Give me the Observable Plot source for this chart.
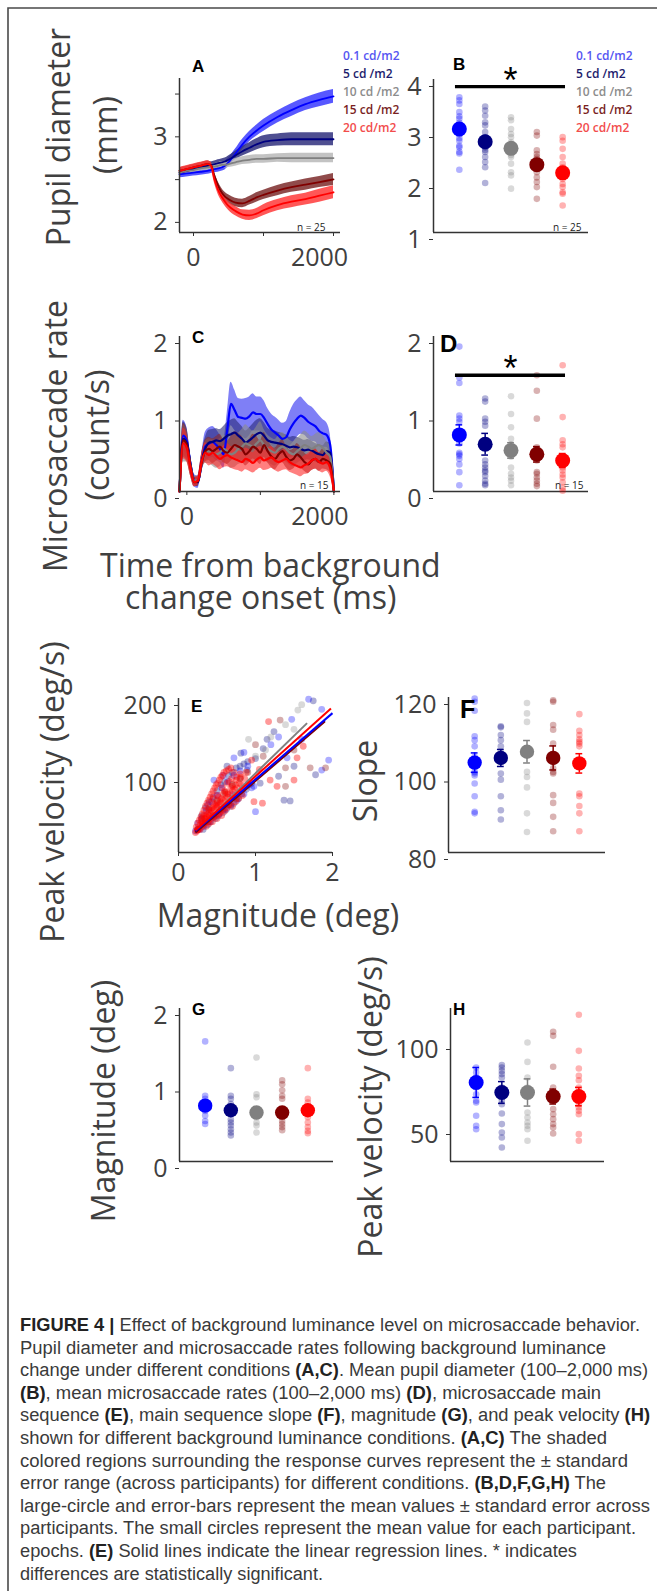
<!DOCTYPE html>
<html><head><meta charset="utf-8">
<script src="https://cdn.jsdelivr.net/npm/d3@7"></script>
<script src="https://cdn.jsdelivr.net/npm/@observablehq/plot@0.6"></script>
<style>
html,body{margin:0;padding:0;width:657px;height:1591px;overflow:hidden;background:#fff;}
#fig{position:absolute;left:0;top:0;width:657px;height:1591px;overflow:hidden;background:#fff;}
#xtitle{position:absolute;left:100px;top:548.6px;font-family:'Open Sans',sans-serif;font-size:32px;line-height:32px;color:#404040;white-space:pre;margin:0;}
</style></head><body><div id="fig"></div>
<script>
// ---------------- DATA ----------------
const conditions = ["0.1 cd/m2","5 cd /m2","10 cd /m2","15 cd /m2","20 cd/m2"];
const lineColors = ["#0000ff","#000080","#808080","#800000","#ff0000"];
const bandColorsA = ["#3b3bff","#30307e","#b8b8b8","#7d2c2c","#ff3a3a"];
const bandColorsC = ["#2a2af0","#2a2a78","#8c8c8c","#8a2a2a","#ff2a2a"];
const legendColors = ["#5555f2","#1c1c6c","#8c8c8c","#7a1f1f","#f24c4c"];
const timeTitle = "Time from background\n   change onset (ms)";

// Panel A: pupil diameter (mm)
const timeA = [-200,-100,0,100,200,250,300,350,400,450,500,600,700,800,900,1000,1200,1400,1600,1800,2000];
const pupilBlue    = [2.48,2.49,2.50,2.51,2.52,2.53,2.54,2.55,2.56,2.58,2.62,2.72,2.83,2.92,2.99,3.05,3.15,3.23,3.30,3.35,3.39];
const pupilNavy    = [2.50,2.52,2.54,2.56,2.58,2.59,2.60,2.61,2.62,2.63,2.65,2.70,2.75,2.79,2.83,2.86,2.88,2.89,2.89,2.89,2.89];
const pupilGray    = [2.50,2.52,2.53,2.55,2.56,2.57,2.57,2.58,2.59,2.59,2.60,2.62,2.64,2.65,2.66,2.66,2.67,2.67,2.67,2.67,2.67];
const pupilDarkRed = [2.52,2.54,2.56,2.58,2.60,2.59,2.46,2.35,2.27,2.22,2.19,2.15,2.14,2.17,2.21,2.24,2.29,2.33,2.36,2.39,2.42];
const pupilRed     = [2.52,2.54,2.56,2.58,2.60,2.58,2.42,2.30,2.22,2.16,2.11,2.05,2.01,2.00,2.02,2.06,2.12,2.16,2.19,2.23,2.27];
const pupilSeBlue    = [0.04,0.04,0.04,0.04,0.04,0.04,0.04,0.045,0.045,0.05,0.05,0.055,0.06,0.06,0.065,0.07,0.07,0.075,0.075,0.08,0.08];
const pupilSeNavy    = [0.035,0.035,0.035,0.035,0.035,0.035,0.035,0.04,0.04,0.04,0.045,0.05,0.055,0.06,0.065,0.07,0.07,0.075,0.075,0.075,0.075];
const pupilSeGray    = [0.035,0.035,0.035,0.035,0.035,0.035,0.035,0.035,0.04,0.04,0.04,0.045,0.045,0.05,0.05,0.05,0.05,0.055,0.055,0.055,0.055];
const pupilSeDarkRed = [0.035,0.035,0.035,0.035,0.035,0.035,0.04,0.045,0.05,0.05,0.05,0.05,0.05,0.05,0.055,0.055,0.06,0.06,0.065,0.065,0.07];
const pupilSeRed     = [0.04,0.04,0.04,0.04,0.04,0.04,0.045,0.05,0.05,0.05,0.05,0.055,0.055,0.06,0.06,0.065,0.065,0.07,0.07,0.075,0.075];

// Panel C: microsaccade rate (count/s)
const timeC = [-100,-50,0,50,100,150,200,250,300,350,400,450,500,550,600,650,700,750,800,850,900,950,1000,1050,1100,1150,1200,1250,1300,1350,1400,1450,1500,1550,1600,1650,1700,1750,1800,1850,1900,1950,2000];
const rateBlue    = [0.00,0.72,0.65,0.35,0.14,0.12,0.35,0.58,0.62,0.64,0.60,0.55,0.48,0.80,1.13,1.05,0.96,0.95,0.94,0.97,1.02,1.00,1.00,0.95,0.87,0.80,0.76,0.72,0.68,0.70,0.80,0.88,0.94,0.98,0.95,0.90,0.87,0.84,0.78,0.75,0.73,0.60,0.00];
const rateNavy    = [0.00,0.68,0.62,0.35,0.14,0.12,0.38,0.55,0.63,0.64,0.66,0.65,0.68,0.72,0.74,0.76,0.72,0.68,0.63,0.66,0.70,0.74,0.76,0.72,0.66,0.64,0.63,0.62,0.61,0.59,0.57,0.58,0.57,0.55,0.53,0.54,0.53,0.50,0.48,0.47,0.52,0.50,0.00];
const rateGray    = [0.00,0.62,0.58,0.33,0.14,0.14,0.35,0.50,0.52,0.50,0.48,0.50,0.55,0.52,0.48,0.50,0.55,0.58,0.62,0.60,0.58,0.62,0.66,0.60,0.55,0.52,0.50,0.55,0.58,0.55,0.50,0.48,0.52,0.56,0.60,0.58,0.55,0.58,0.60,0.56,0.50,0.45,0.00];
const rateDarkRed = [0.00,0.66,0.60,0.32,0.12,0.13,0.36,0.52,0.55,0.52,0.55,0.58,0.52,0.50,0.55,0.60,0.58,0.55,0.48,0.52,0.58,0.55,0.50,0.60,0.52,0.45,0.42,0.48,0.52,0.45,0.40,0.42,0.48,0.44,0.38,0.35,0.40,0.42,0.38,0.42,0.40,0.36,0.00];
const rateRed     = [0.00,0.62,0.56,0.30,0.12,0.14,0.38,0.50,0.47,0.50,0.46,0.42,0.45,0.47,0.44,0.42,0.40,0.38,0.42,0.40,0.37,0.41,0.44,0.40,0.42,0.44,0.40,0.38,0.40,0.42,0.38,0.35,0.33,0.31,0.34,0.36,0.40,0.42,0.38,0.36,0.38,0.30,0.00];
const rateSeBlue    = [0.00,0.20,0.18,0.12,0.08,0.08,0.12,0.18,0.20,0.20,0.20,0.18,0.18,0.22,0.28,0.26,0.24,0.24,0.26,0.25,0.24,0.22,0.22,0.22,0.20,0.20,0.20,0.20,0.20,0.20,0.22,0.24,0.24,0.24,0.22,0.22,0.22,0.20,0.20,0.18,0.16,0.14,0.00];
const rateSeNavy    = [0,0.22,0.2,0.12,0.06,0.06,0.1,0.14,0.16,0.16,0.15,0.15,0.16,0.17,0.18,0.18,0.17,0.16,0.15,0.16,0.17,0.18,0.18,0.17,0.16,0.15,0.15,0.14,0.14,0.14,0.13,0.13,0.13,0.13,0.13,0.13,0.12,0.12,0.12,0.12,0.12,0.12,0];
const rateSeGray    = [0,0.24,0.2,0.12,0.06,0.06,0.1,0.14,0.16,0.17,0.18,0.18,0.18,0.17,0.18,0.19,0.2,0.22,0.24,0.22,0.2,0.22,0.24,0.2,0.18,0.17,0.17,0.18,0.18,0.17,0.16,0.16,0.16,0.17,0.18,0.17,0.16,0.16,0.16,0.16,0.15,0.14,0];
const rateSeDarkRed = [0,0.22,0.2,0.12,0.06,0.06,0.1,0.14,0.15,0.16,0.16,0.16,0.15,0.15,0.16,0.17,0.17,0.16,0.15,0.15,0.16,0.16,0.15,0.16,0.15,0.14,0.14,0.14,0.15,0.14,0.13,0.13,0.14,0.13,0.12,0.12,0.13,0.13,0.12,0.13,0.12,0.12,0];
const rateSeRed     = [0,0.2,0.18,0.1,0.06,0.06,0.1,0.13,0.14,0.15,0.14,0.14,0.14,0.15,0.14,0.14,0.13,0.13,0.14,0.14,0.13,0.14,0.14,0.13,0.14,0.14,0.13,0.13,0.13,0.14,0.13,0.12,0.12,0.12,0.12,0.13,0.13,0.13,0.12,0.12,0.12,0.11,0];

// Panel B: mean pupil diameter per participant
const pupilPtsB = [
  [3.65,3.59,3.52,3.36,3.28,3.23,3.15,3.10,3.05,2.97,2.92,2.85,2.80,2.70,2.67,2.58,2.55,2.23],
  [3.47,3.39,3.29,3.16,3.10,2.97,2.87,2.77,2.67,2.58,2.48,2.38,2.28,1.97,2.85,2.62],
  [3.26,3.20,3.03,2.93,2.87,2.77,2.67,2.58,2.48,2.35,2.18,2.12,1.86,2.72,2.52],
  [2.97,2.90,2.61,2.54,2.48,2.41,2.35,2.28,2.18,2.08,1.99,1.89,1.66,2.44,2.31],
  [2.87,2.80,2.64,2.48,2.35,2.28,2.15,2.05,1.95,1.89,1.79,1.76,1.53,2.22,2.10]
];
const pupilMeanB = [3.03,2.78,2.65,2.33,2.17];
const pupilSeB = [0.05,0.05,0.05,0.05,0.05];
const sigB = [{x1:0.85, x2:5.11, y:3.86}];

// Panel D: mean microsaccade rate per participant
const ratePtsD = [
  [1.87,1.47,1.40,0.98,0.94,0.90,0.48,0.46,0.42,0.50,0.35,0.25,0.08,0.62],
  [1.20,1.16,0.94,0.90,0.85,0.35,0.31,0.27,0.25,0.20,0.14,0.10,0.08,0.40],
  [1.23,1.00,0.83,0.68,0.61,0.31,0.23,0.18,0.14,0.08,0.45],
  [1.50,1.30,0.94,0.57,0.25,0.23,0.18,0.14,0.10,0.07,0.40],
  [1.63,0.96,0.66,0.61,0.57,0.31,0.27,0.18,0.12,0.05,0.01,0.22]
];
const rateMeanD = [0.73,0.61,0.53,0.48,0.40];
const rateSeD = [0.13,0.14,0.10,0.10,0.09];
const sigD = [{x1:0.85, x2:5.11, y:1.50}];

// Panel E: main sequence [magnitude deg, peak velocity deg/s]
const seqBlue = [[0.22,28],[0.25,38],[0.27,30],[0.3,44],[0.33,34],[0.36,54],[0.4,40],[0.43,66],[0.46,46],[0.5,74],[0.53,50],[0.56,84],[0.6,56],[0.64,92],[0.68,62],[0.72,100],[0.76,68],[0.8,106],[0.85,76],[0.9,112],[0.95,84],[0.46,94],[0.72,123],[0.98,86],[1.0,53],[1.2,140],[1.3,150],[0.85,130],[1.41,123],[1.47,173],[1.6,147],[1.69,199],[1.86,186],[1.86,107],[1.95,120],[0.38,62],[0.58,100],[0.7,75]];
const seqNavy = [[0.25,30],[0.3,48],[0.32,30],[0.35,58],[0.38,36],[0.4,66],[0.42,40],[0.45,72],[0.48,44],[0.5,80],[0.52,48],[0.55,88],[0.58,52],[0.6,92],[0.62,56],[0.65,100],[0.68,60],[0.7,104],[0.72,64],[0.75,110],[0.78,70],[0.8,112],[0.82,76],[0.85,115],[0.88,82],[0.9,118],[0.95,90],[1.0,122],[0.63,112],[0.81,129],[0.89,107],[0.92,88],[1.06,90],[1.1,135],[1.15,147],[1.24,157],[1.3,99],[1.37,68],[1.45,67],[1.5,112],[1.75,197],[1.78,101]];
const seqGray = [[0.25,30],[0.3,42],[0.35,40],[0.4,56],[0.45,48],[0.5,66],[0.55,56],[0.6,76],[0.65,64],[0.7,88],[0.75,72],[0.8,96],[0.91,147],[1.0,125],[1.13,133],[1.2,150],[1.39,166],[1.5,160],[1.55,185],[1.6,192]];
const seqDarkRed = [[0.25,30],[0.3,44],[0.35,40],[0.4,58],[0.45,48],[0.5,68],[0.55,56],[0.6,78],[0.65,62],[0.7,88],[0.75,70],[0.8,96],[0.9,104],[1.0,140],[1.1,125],[1.32,172],[1.39,110],[1.39,86],[1.5,133],[1.71,110],[1.91,110]];
const seqRed = [[0.22,26],[0.23,33],[0.24,28],[0.25,38],[0.26,30],[0.27,42],[0.28,30],[0.29,46],[0.30,33],[0.31,50],[0.32,36],[0.33,55],[0.34,38],[0.35,60],[0.36,34],[0.37,64],[0.38,40],[0.39,68],[0.40,38],[0.41,72],[0.42,44],[0.43,76],[0.44,40],[0.45,80],[0.46,46],[0.47,84],[0.48,48],[0.49,88],[0.50,44],[0.51,90],[0.52,50],[0.53,94],[0.54,52],[0.55,98],[0.56,48],[0.57,100],[0.58,56],[0.59,104],[0.60,54],[0.62,106],[0.63,58],[0.65,108],[0.66,62],[0.68,110],[0.70,60],[0.72,104],[0.74,66],[0.76,98],[0.78,70],[0.80,102],[0.83,74],[0.86,96],[0.30,40],[0.36,48],[0.44,58],[0.50,64],[0.56,70],[0.62,78],[0.68,84],[0.74,88],[0.40,52],[0.47,62],[0.54,66],[0.60,80],[0.35,44],[0.52,72],[0.66,92],[0.95,120],[1.05,108],[0.98,66],[1.09,64],[1.17,170],[1.19,94],[1.28,86],[1.5,94],[1.54,123],[1.62,138],[0.45,64],[0.58,76],[0.7,86],[0.64,72],[0.5,58],[0.42,55],[0.38,50],
  [0.25,30],[0.28,36],[0.31,38],[0.34,44],[0.37,46],[0.40,48],[0.43,54],[0.46,56],[0.49,60],[0.52,62],[0.55,64],[0.58,68],[0.61,70],[0.64,76],[0.67,76],[0.70,80],[0.73,82],[0.76,84],[0.79,90],[0.82,88],[0.33,48],[0.39,56],[0.45,70],[0.51,74],[0.57,84],[0.63,90],[0.69,96],[0.75,94],[0.81,98],[0.88,104]];
const regMagStart = [0.22,0.22,0.22,0.22,0.22];
const regVelStart = [28,27,27,26,29];
const regMagEnd = [2.0,1.9,1.67,1.9,1.98];
const regVelEnd = [181,171,168,170,187];

// Panel F: main sequence slope
const slopePtsF = [
  [119.7,118.9,116.6,110.0,109.0,107.4,104.7,102.5,100.8,100.4,99.9,97.8,94.5,90.5,90.1],
  [112.6,112.3,110.3,109.0,107.4,105.7,100.4,98.8,94.5,90.9,88.5],
  [118.6,115.9,113.7,100.8,99.5,96.8,90.1,85.3],
  [119.3,118.9,112.9,111.7,108.1,105.5,101.7,100.8,100.4,94.8,92.8,89.2,85.5],
  [115.7,111.4,110.3,109.2,108.6,108.1,107.4,95.2,94.5,92.0,90.1,85.5]
];
const slopeMeanF = [103.2,104.4,106.0,104.4,103.0];
const slopeSeF = [2.5,2.2,2.9,3.1,2.5];

// Panel G: magnitude (deg)
const magPtsG = [
  [1.57,0.86,0.82,0.77,0.66,0.60,0.53,0.49],
  [1.22,0.86,0.82,0.75,0.71,0.62,0.55,0.51,0.47,0.42,0.38,0.34],
  [1.36,0.88,0.84,0.58,0.51,0.47,0.38],
  [1.06,1.01,0.93,0.86,0.82,0.62,0.58,0.53,0.49,0.45,0.41],
  [1.22,0.82,0.77,0.71,0.58,0.51,0.45,0.40,0.37]
];
const magMeanG = [0.73,0.67,0.64,0.64,0.67];
const magSeG = [0.04,0.04,0.03,0.04,0.04];

// Panel H: peak velocity (deg/s)
const velPtsH = [
  [85.3,82.4,79.4,77.5,75.5,73.5,69.6,65.7,64.7,56.9,51.0,49.0],
  [86.7,85.3,83.3,81.4,79.4,73.5,69.6,65.7,63.7,58.2,52.0,47.1,44.1,38.2],
  [100.0,88.6,79.4,73.5,68.6,58.8,55.9,52.9,51.0,49.0,42.2],
  [106.3,103.9,85.7,73.5,65.7,60.8,57.8,54.9,52.0,50.0,46.5],
  [116.3,95.1,84.7,80.4,77.8,73.5,63.7,61.8,59.8,57.8,46.1,42.2]
];
const velMeanH = [76.5,70.6,70.6,68.2,68.2];
const velSeH = [8.8,6.4,8.0,4.4,5.4];

// ---------------- LAYOUT / DRAWING ----------------
const fig = document.getElementById("fig");
const M = {l:70, r:20, t:30, b:50};
const axisColor = "#333";
const baseStyle = {background:"transparent", overflow:"visible", fontFamily:"'Open Sans', sans-serif", fontSize:"25px", color:"#404040"};
const plain = d => String(d);

function place(box, xDomain, yDomain, marks, xAxisNull) {
  const p = Plot.plot({
    width: box[1]-box[0]+M.l+M.r,
    height: box[3]-box[2]+M.t+M.b,
    marginLeft: M.l, marginRight: M.r, marginTop: M.t, marginBottom: M.b,
    x: xAxisNull ? {domain: xDomain, axis: null} : {domain: xDomain},
    y: {domain: yDomain},
    color: {type: "identity"},
    style: baseStyle,
    marks
  });
  p.style.position = "absolute";
  p.style.left = (box[0]-M.l) + "px";
  p.style.top = (box[2]-M.t) + "px";
  p.style.maxWidth = "none";
  fig.appendChild(p);
}

function frameLines(xd, yd) {
  return [
    Plot.ruleX([xd], {stroke: axisColor, strokeWidth: 1.5}),
    Plot.ruleY([yd], {stroke: axisColor, strokeWidth: 1.5})
  ];
}
function yAxis(ticks, fmt) {
  return Plot.axisY(ticks, {tickSize: 4, tickPadding: 8, dy: 7, label: null, tickFormat: fmt || plain, stroke: axisColor});
}

function timePanel(box, xDomain, yDomain, yTicks, yFmt, times, means, ses, bands, bandOpacity, lineW) {
  const marks = [];
  means.forEach((arr, i) => {
    const rows = times.map((t, j) => ({t, m: arr[j], se: ses[i][j]}));
    marks.push(Plot.areaY(rows, {x: "t", y1: d => d.m - d.se, y2: d => d.m + d.se, fill: bands[i], fillOpacity: bandOpacity, curve: "monotone-x"}));
  });
  means.forEach((arr, i) => {
    const rows = times.map((t, j) => ({t, m: arr[j]}));
    marks.push(Plot.lineY(rows, {x: "t", y: "m", stroke: lineColors[i], strokeWidth: lineW, curve: "monotone-x"}));
  });
  marks.push(...frameLines(xDomain[0], yDomain[0]));
  marks.push(yAxis(yTicks, yFmt));
  marks.push(Plot.axisX([0, 1000, 2000], {tickSize: 4, tickFormat: () => "", label: null, stroke: axisColor}));
  marks.push(Plot.axisX([0], {tickSize: 0, tickPadding: 16, label: null, tickFormat: plain}));
  marks.push(Plot.axisX([2000], {tickSize: 0, tickPadding: 16, dx: -14, label: null, tickFormat: plain}));
  place(box, xDomain, yDomain, marks, false);
}

function dotPanel(box, yDomain, yTicks, pts, means, ses, bigR, extra) {
  const marks = [...frameLines(0, yDomain[0]), yAxis(yTicks)];
  pts.forEach((arr, i) => {
    marks.push(Plot.dot(arr, {x: () => i + 1, y: d => d, r: 3.3, fill: lineColors[i], fillOpacity: 0.3}));
  });
  const rows = means.map((m, i) => ({cat: i + 1, m, se: ses[i], c: lineColors[i]}));
  marks.push(Plot.ruleX(rows, {x: "cat", y1: d => d.m - d.se, y2: d => d.m + d.se, stroke: "c", strokeWidth: 1.5}));
  marks.push(Plot.ruleY(rows, {y: d => d.m + d.se, x1: d => d.cat - 0.13, x2: d => d.cat + 0.13, stroke: "c", strokeWidth: 1.5}));
  marks.push(Plot.ruleY(rows, {y: d => d.m - d.se, x1: d => d.cat - 0.13, x2: d => d.cat + 0.13, stroke: "c", strokeWidth: 1.5}));
  marks.push(Plot.dot(rows, {x: "cat", y: "m", r: bigR, fill: "c"}));
  if (extra) marks.push(...extra);
  place(box, [0, 6], yDomain, marks, true);
}

function sigMarks(sig) {
  return [
    Plot.ruleY(sig, {y: "y", x1: "x1", x2: "x2", stroke: "#000", strokeWidth: 3.4}),
    Plot.text(sig, {x: d => (d.x1 + d.x2) / 2, y: "y", text: () => "*", fontSize: 36, fontFamily: "'Liberation Sans', Arial, sans-serif", lineAnchor: "bottom", dy: 6, fill: "#000"})
  ];
}

// A
timePanel([179, 340, 78, 232], [-200, 2100], [1.8, 3.6], [2, 2.5, 3, 3.5], d => (d % 1 === 0 ? String(d) : ""),
  timeA, [pupilBlue, pupilNavy, pupilGray, pupilDarkRed, pupilRed],
  [pupilSeBlue, pupilSeNavy, pupilSeGray, pupilSeDarkRed, pupilSeRed], bandColorsA, 0.85, 1.8);
// C
timePanel([179, 340, 336, 491], [-100, 2090], [0, 2], [0, 1, 2], null,
  timeC, [rateBlue, rateNavy, rateGray, rateDarkRed, rateRed],
  [rateSeBlue, rateSeNavy, rateSeGray, rateSeDarkRed, rateSeRed], bandColorsC, 0.6, 2.2);
// B
dotPanel([433, 588, 79, 232], [1, 4], [1, 2, 3, 4], pupilPtsB, pupilMeanB, pupilSeB, 7.5, sigMarks(sigB));
// D
dotPanel([433, 588, 336, 491], [0, 2], [0, 1, 2], ratePtsD, rateMeanD, rateSeD, 7.5, sigMarks(sigD));
// F
dotPanel([448, 605, 697, 852], [80, 120], [80, 100, 120], slopePtsF, slopeMeanF, slopeSeF, 7.2);
// G
dotPanel([179, 333, 1008, 1161], [0, 2], [0, 1, 2], magPtsG, magMeanG, magSeG, 7.2);
// H
dotPanel([450, 604, 1008, 1161], [30, 120], [50, 100], velPtsH, velMeanH, velSeH, 7.5);

// E main sequence
(function () {
  const sets = [seqNavy, seqBlue, seqGray, seqDarkRed, seqRed];
  const idx = [1, 0, 2, 3, 4];
  const ops = [0.32, 0.32, 0.3, 0.32, 0.4];
  const marks = [];
  sets.forEach((s, k) => {
    marks.push(Plot.dot(s, {x: d => d[0], y: d => d[1], r: 3.4, fill: lineColors[idx[k]], fillOpacity: ops[k]}));
  });
  const regs = [2, 1, 3, 0, 4].map(i => ({x1: regMagStart[i], y1: regVelStart[i], x2: regMagEnd[i], y2: regVelEnd[i], c: lineColors[i]}));
  marks.push(Plot.link(regs, {x1: "x1", y1: "y1", x2: "x2", y2: "y2", stroke: "c", strokeWidth: 2}));
  marks.push(...frameLines(0, 0));
  marks.push(yAxis([100, 200]));
  marks.push(Plot.axisX([0, 1, 2], {tickSize: 4, tickPadding: 7, label: null, stroke: axisColor, tickFormat: plain}));
  place([178, 332, 698, 852], [0, 2], [0, 200], marks, false);
})();

// ---------------- OVERLAY TEXT ----------------
const NS = "http://www.w3.org/2000/svg";
const ov = document.createElementNS(NS, "svg");
ov.setAttribute("width", 657); ov.setAttribute("height", 1591);
ov.style.cssText = "position:absolute;left:0;top:0;overflow:hidden;";
fig.appendChild(ov);

function el(name, attrs, parent) {
  const e = document.createElementNS(NS, name);
  for (const k in attrs) e.setAttribute(k, attrs[k]);
  (parent || ov).appendChild(e);
  return e;
}
function txt(str, x, y, o = {}) {
  const a = {
    "font-family": o.font || "'Open Sans', sans-serif",
    "font-size": o.size || 32,
    "font-weight": o.weight || 400,
    fill: o.fill || "#404040",
    "text-anchor": o.anchor || "start"
  };
  if (o.rotate) { a.transform = `translate(${x},${y}) rotate(-90)`; a.x = 0; a.y = 0; }
  else { a.x = x; a.y = y; }
  const t = el("text", a);
  t.textContent = str;
  return t;
}

// border
el("path", {d: "M8,1591V8H657", fill: "none", stroke: "#4a4a4a", "stroke-width": 1.6});

// big axis titles
txt("Pupil diameter", 70, 137, {rotate: true, anchor: "middle"});
txt("(mm)", 117, 135, {rotate: true, anchor: "middle"});
txt("Microsaccade rate", 67, 436, {rotate: true, anchor: "middle"});
txt("(count/s)", 109, 435, {rotate: true, anchor: "middle"});
{
  const d = document.createElement("div");
  d.id = "xtitle";
  d.textContent = timeTitle;
  fig.appendChild(d);
}
txt("Peak velocity (deg/s)", 64, 792, {rotate: true, anchor: "middle"});
txt("Magnitude (deg)", 278, 927, {anchor: "middle"});
txt("Slope", 377, 781, {rotate: true, anchor: "middle"});
txt("Magnitude (deg)", 115, 1101, {rotate: true, anchor: "middle"});
txt("Peak velocity (deg/s)", 382, 1107, {rotate: true, anchor: "middle"});

// panel letters
const bold = "'Liberation Sans', Arial, sans-serif";
[["A",192,72,17],["B",453,70,17],["C",192,343,17],["D",440,352,24],["E",191,712,17],["F",460,718,25],["G",192,1015,17],["H",453,1015,17]]
  .forEach(([s, x, y, f]) => txt(s, x, y, {font: bold, size: f, weight: 700, fill: "#000"}));

// legends
const legendY = [60, 78, 96, 114, 132];
[343, 576].forEach(x0 => conditions.forEach((c, i) => txt(c, x0, legendY[i], {size: 12, weight: 600, fill: legendColors[i]})));

// n labels
txt("n = 25", 297, 231, {size: 10, fill: "#222"});
txt("n = 25", 553, 231, {size: 10, fill: "#222"});
txt("n = 15", 300, 489, {size: 10, fill: "#222"});
txt("n = 15", 555, 489, {size: 10, fill: "#222"});

// caption
const captionLines = [
  [["FIGURE 4 | ",1],["Effect of background luminance level on microsaccade behavior.",0]],
  [["Pupil diameter and microsaccade rates following background luminance",0]],
  [["change under different conditions ",0],["(A,C)",1],[". Mean pupil diameter (100–2,000 ms)",0]],
  [["(B)",1],[", mean microsaccade rates (100–2,000 ms) ",0],["(D)",1],[", microsaccade main",0]],
  [["sequence ",0],["(E)",1],[", main sequence slope ",0],["(F)",1],[", magnitude ",0],["(G)",1],[", and peak velocity ",0],["(H)",1]],
  [["shown for different background luminance conditions. ",0],["(A,C)",1],[" The shaded",0]],
  [["colored regions surrounding the response curves represent the ± standard",0]],
  [["error range (across participants) for different conditions. ",0],["(B,D,F,G,H)",1],[" The",0]],
  [["large-circle and error-bars represent the mean values ± standard error across",0]],
  [["participants. The small circles represent the mean value for each participant.",0]],
  [["epochs. ",0],["(E)",1],[" Solid lines indicate the linear regression lines. * indicates",0]],
  [["differences are statistically significant.",0]]
];
const captionRight = [640,606,648,601,650,607,628,606,650,636,577,323];
captionLines.forEach((segs, i) => {
  const t = el("text", {
    x: 20, y: 1331 + i * 22.6,
    "font-family": "'Liberation Sans', Arial, sans-serif", "font-size": 18, fill: "#3a3a3a",
    textLength: captionRight[i] - 20, lengthAdjust: "spacingAndGlyphs", style: "white-space:pre"
  });
  segs.forEach(([s, b]) => {
    const ts = el("tspan", b ? {"font-weight": 700, fill: "#222"} : {}, t);
    ts.textContent = s;
  });
});
</script></body></html>
